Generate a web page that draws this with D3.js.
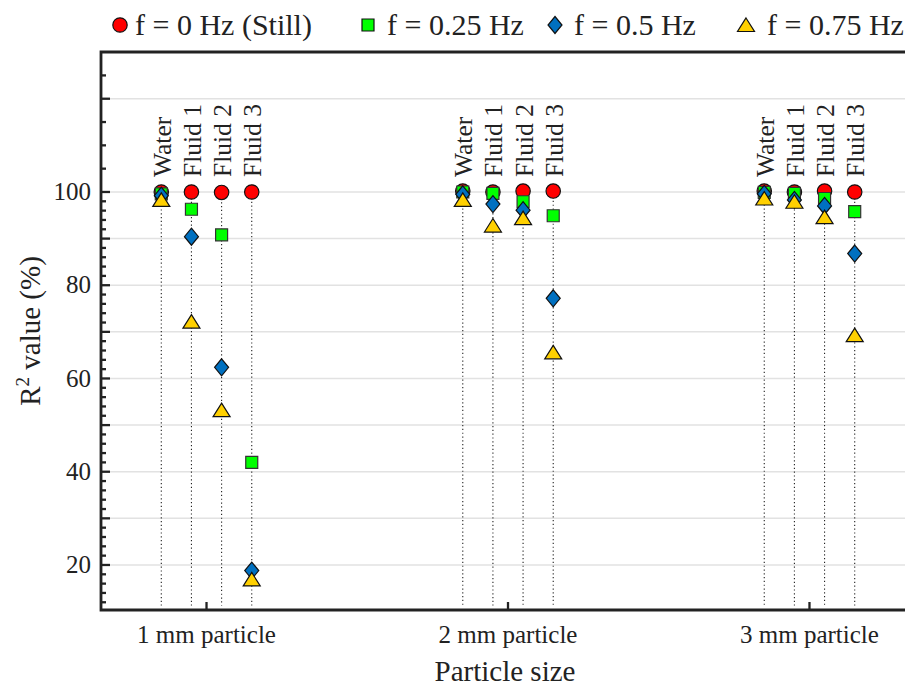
<!DOCTYPE html>
<html>
<head>
<meta charset="utf-8">
<script src="https://cdn.jsdelivr.net/npm/d3@7"></script>
<style>
  html, body { margin: 0; padding: 0; background: #fff; }
  svg { display: block; font-family: "Liberation Serif", "Times New Roman", serif; }
</style>
</head>
<body>
<svg id="chart" width="907" height="688"></svg>
<script>
// Particle-size groups and the fluids measured within each group
const categories = ["1 mm particle", "2 mm particle", "3 mm particle"];
const fluids = ["Water", "Fluid 1", "Fluid 2", "Fluid 3"];

// R² (%) per oscillation frequency, ordered group by group (Water, Fluid 1, Fluid 2, Fluid 3)
const f0   = [100.0, 100.0, 99.9, 100.0, 100.2, 100.0, 100.2, 100.2, 100.2, 100.0, 100.2, 100.0];
const f025 = [99.6, 96.3, 90.8, 42.0, 100.0, 99.7, 97.9, 94.9, 99.9, 99.7, 98.6, 95.8];
const f05  = [99.2, 90.4, 62.4, 18.8, 99.5, 97.4, 96.1, 77.2, 99.6, 98.3, 97.0, 86.8];
const f075 = [98.3, 72.2, 53.2, 16.9, 98.3, 92.8, 94.4, 65.6, 98.6, 97.9, 94.6, 69.3];

const seriesNames = ["f = 0 Hz (Still)", "f = 0.25 Hz", "f = 0.5 Hz", "f = 0.75 Hz"];
const yTickLabels = [20, 40, 60, 80, 100];

const series = [
  { name: seriesNames[0], values: f0,   shape: "circle",   fill: "#ff0000" },
  { name: seriesNames[1], values: f025, shape: "square",   fill: "#00ff00" },
  { name: seriesNames[2], values: f05,  shape: "diamond",  fill: "#0070c0" },
  { name: seriesNames[3], values: f075, shape: "triangle", fill: "#ffd000" }
];

const svg = d3.select("#chart");
const plotLeft = 101, plotRight = 905, plotTop = 52, plotBottom = 610;

const x = d3.scaleLinear().domain([0.65, 3.35]).range([plotLeft, 915]);
const y = d3.scaleLinear().domain([10, 130]).range([611.6, 52.1]);
const offsets = [-0.15, -0.05, 0.05, 0.15];

function markerPath(shape) {
  switch (shape) {
    case "circle": return d3.symbol(d3.symbolCircle, Math.PI * 7.2 * 7.2)();
    case "square": return "M-6,-6H6V6H-6Z";
    case "diamond": return "M0,-8.5L7,0L0,8.5L-7,0Z";
    case "triangle": return "M0,-7L8.5,6.5L-8.5,6.5Z";
  }
}

// gridlines
const majors = d3.range(20, 101, 10).concat([120]);
svg.append("g").selectAll("line").data(majors).join("line")
  .attr("x1", plotLeft).attr("x2", plotRight)
  .attr("y1", d => y(d)).attr("y2", d => y(d))
  .attr("stroke", "#e2e2e2").attr("stroke-width", 1.5);

// points: one entry per category × fluid
const points = [];
categories.forEach((c, ci) => fluids.forEach((f, fi) => {
  points.push({ ci, fi, idx: ci * 4 + fi, px: x(ci + 1 + offsets[fi]) });
}));

// dotted drop lines
svg.append("g").selectAll("line").data(points).join("line")
  .attr("x1", d => d.px).attr("x2", d => d.px)
  .attr("y1", d => y(f0[d.idx]) + 6).attr("y2", y(11.3))
  .attr("stroke", "#222").attr("stroke-width", 1.1)
  .attr("stroke-dasharray", "1.2,2.6");

// fluid labels
svg.append("g").selectAll("text").data(points).join("text")
  .attr("transform", d => `translate(${d.px + 9.5},177) rotate(-90)`)
  .attr("font-size", 25.5).attr("fill", "#222")
  .text(d => fluids[d.fi]);

// markers
series.forEach(s => {
  svg.append("g").selectAll("path").data(points).join("path")
    .attr("d", markerPath(s.shape))
    .attr("transform", d => `translate(${d.px},${y(s.values[d.idx])})`)
    .attr("fill", s.fill)
    .attr("stroke", s.shape === "square" ? "#333" : "#111")
    .attr("stroke-width", 1.2);
});

// y-axis ticks
const minorTicks = d3.range(12, 100, 2).filter(v => v % 10 !== 0).concat([105, 110, 115, 125]);
const axisColor = "#222";
svg.append("g").selectAll("line").data(minorTicks).join("line")
  .attr("x1", plotLeft).attr("x2", plotLeft + 5)
  .attr("y1", d => y(d)).attr("y2", d => y(d))
  .attr("stroke", axisColor).attr("stroke-width", 2.3);
svg.append("g").selectAll("line").data(majors).join("line")
  .attr("x1", plotLeft).attr("x2", plotLeft + 9)
  .attr("y1", d => y(d)).attr("y2", d => y(d))
  .attr("stroke", axisColor).attr("stroke-width", 2.3);

svg.append("g").selectAll("text").data(yTickLabels).join("text")
  .attr("x", 91).attr("y", d => y(d)).attr("dy", "0.33em")
  .attr("text-anchor", "end").attr("font-size", 25).attr("fill", "#222")
  .text(d => d);

// x-axis ticks and labels
svg.append("g").selectAll("line").data(categories).join("line")
  .attr("x1", (d, i) => x(i + 1)).attr("x2", (d, i) => x(i + 1))
  .attr("y1", plotBottom).attr("y2", plotBottom - 8)
  .attr("stroke", axisColor).attr("stroke-width", 2.3);
svg.append("g").selectAll("text").data(categories).join("text")
  .attr("x", (d, i) => x(i + 1)).attr("y", 643)
  .attr("text-anchor", "middle").attr("font-size", 25).attr("fill", "#222")
  .text(d => d);

// frame
svg.append("path")
  .attr("d", `M${plotRight},${plotTop}H${plotLeft}V${plotBottom}H${plotRight}`)
  .attr("fill", "none").attr("stroke", axisColor).attr("stroke-width", 2.8);

// axis titles
svg.append("text")
  .attr("x", 505).attr("y", 681).attr("text-anchor", "middle")
  .attr("font-size", 29).attr("fill", "#222").text("Particle size");

const yt = svg.append("text")
  .attr("transform", `translate(40,331) rotate(-90)`)
  .attr("text-anchor", "middle").attr("font-size", 29).attr("fill", "#222");
yt.append("tspan").text("R");
yt.append("tspan").attr("font-size", 19).attr("dy", "-0.6em").text("2");
yt.append("tspan").attr("dy", "0.4em").text(" value (%)");

// legend
const legendPos = [
  { mx: 120, tx: 135 },
  { mx: 368, tx: 387 },
  { mx: 555, tx: 574 },
  { mx: 746, tx: 767 }
];
series.forEach((s, i) => {
  svg.append("path")
    .attr("d", markerPath(s.shape))
    .attr("transform", `translate(${legendPos[i].mx},25)`)
    .attr("fill", s.fill).attr("stroke", "#111").attr("stroke-width", 1.2);
  svg.append("text")
    .attr("x", legendPos[i].tx).attr("y", 35)
    .attr("font-size", 30).attr("fill", "#222")
    .text(s.name);
});
</script>
</body>
</html>
